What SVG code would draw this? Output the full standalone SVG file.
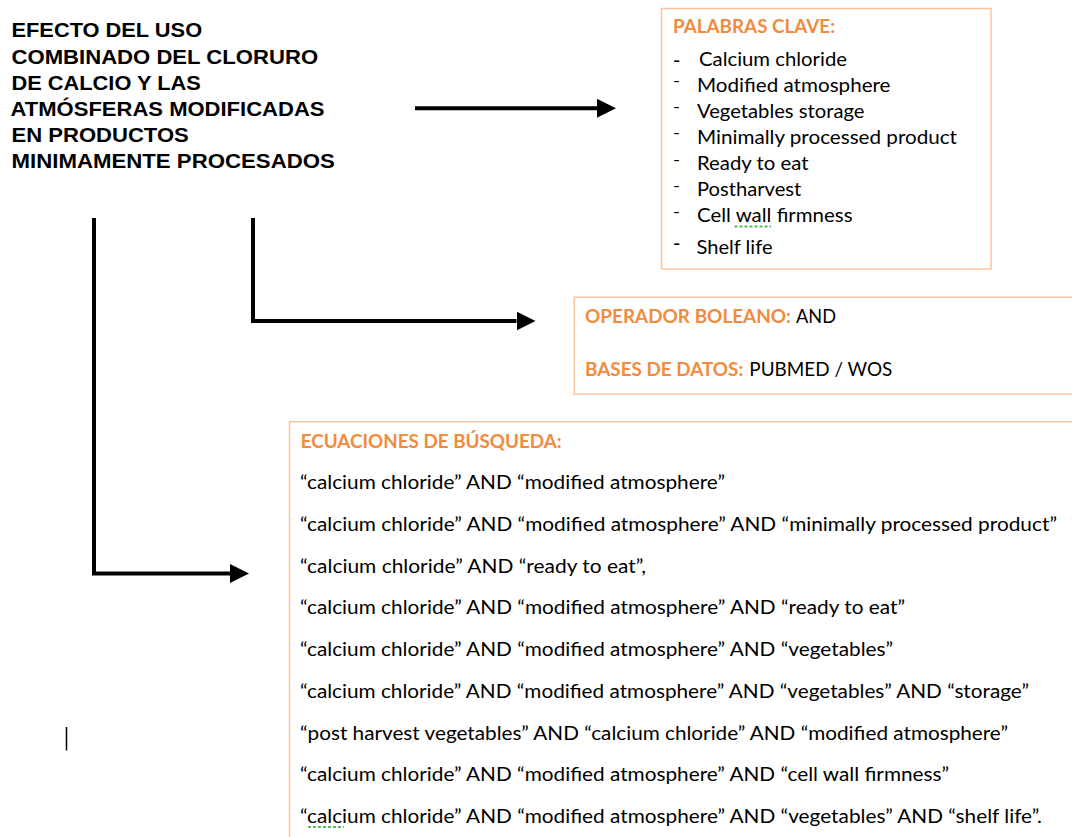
<svg xmlns="http://www.w3.org/2000/svg" width="1072" height="837" viewBox="0 0 1072 837">
<style>
.title{font-family:"Liberation Sans",Arial,sans-serif;font-weight:bold;font-size:20.5px;fill:#000}
.hd{font-family:Lato,"Open Sans",sans-serif;font-weight:bold;font-size:18px;fill:#F28B3E}
.kw{font-family:Lato,"Open Sans",sans-serif;font-size:20px;fill:#000}
.dash{font-family:Lato,"Open Sans",sans-serif;font-size:16px;fill:#000}
.eq{font-family:Lato,"Open Sans",sans-serif;font-size:18.5px;fill:#000}
.box{fill:#fff;stroke:#F8C4A0;stroke-width:1.5}
.conn{fill:none;stroke:#000;stroke-width:4;stroke-linejoin:miter}
.spell{stroke:#5DB75D;stroke-width:2;stroke-dasharray:3 2}
</style>
<defs>
<marker id="ah" markerUnits="userSpaceOnUse" markerWidth="20" markerHeight="20" refX="0" refY="9.5" orient="auto">
<path d="M0,0 L19,9.5 L0,19 Z" fill="#000"/>
</marker>
</defs>
<rect width="1072" height="837" fill="#fff"/>

<g id="title">
<text class="title" x="11.5" y="37.3" textLength="190.6" lengthAdjust="spacingAndGlyphs">EFECTO DEL USO</text>
<text class="title" x="11.5" y="63.5" textLength="306.6" lengthAdjust="spacingAndGlyphs">COMBINADO DEL CLORURO</text>
<text class="title" x="11.5" y="89.7" textLength="189.3" lengthAdjust="spacingAndGlyphs">DE CALCIO Y LAS</text>
<text class="title" x="10.5" y="115.9" textLength="314" lengthAdjust="spacingAndGlyphs">ATMÓSFERAS MODIFICADAS</text>
<text class="title" x="11.5" y="142.1" textLength="177.3" lengthAdjust="spacingAndGlyphs">EN PRODUCTOS</text>
<text class="title" x="11.5" y="168.3" textLength="323.3" lengthAdjust="spacingAndGlyphs">MINIMAMENTE PROCESADOS</text>
</g>

<g id="connectors">
<path class="conn" d="M415,108.3 H597" marker-end="url(#ah)"/>
<path class="conn" d="M253,218 V321 H516.5" marker-end="url(#ah)"/>
<path class="conn" d="M94,218 V573.5 H230" marker-end="url(#ah)"/>
</g>

<g id="palabras-clave">
<rect class="box" x="661.5" y="8.5" width="329.5" height="260.5"/>
<text class="hd" x="673" y="33" textLength="162" lengthAdjust="spacingAndGlyphs">PALABRAS CLAVE:</text>
<text class="dash" x="673" y="65.8" font-weight="bold" textLength="7.3" lengthAdjust="spacingAndGlyphs">-</text>
<text class="dash" x="673" y="85.6" textLength="7" lengthAdjust="spacingAndGlyphs">-</text>
<text class="dash" x="673" y="112.3" textLength="7" lengthAdjust="spacingAndGlyphs">-</text>
<text class="dash" x="673" y="137.9" textLength="7" lengthAdjust="spacingAndGlyphs">-</text>
<text class="dash" x="673" y="164.6" textLength="7" lengthAdjust="spacingAndGlyphs">-</text>
<text class="dash" x="673" y="190.6" textLength="7" lengthAdjust="spacingAndGlyphs">-</text>
<text class="dash" x="673" y="216.9" textLength="7" lengthAdjust="spacingAndGlyphs">-</text>
<text class="dash" x="673" y="248.6" font-weight="bold" textLength="7.3" lengthAdjust="spacingAndGlyphs">-</text>
<text class="kw" x="699" y="65.7" textLength="148" lengthAdjust="spacingAndGlyphs">Calcium chloride</text>
<text class="kw" x="697" y="91.7" textLength="193.5" lengthAdjust="spacingAndGlyphs">Modified atmosphere</text>
<text class="kw" x="697" y="117.7" textLength="167.5" lengthAdjust="spacingAndGlyphs">Vegetables storage</text>
<text class="kw" x="697" y="144" textLength="260" lengthAdjust="spacingAndGlyphs">Minimally processed product</text>
<text class="kw" x="697" y="170" textLength="111.5" lengthAdjust="spacingAndGlyphs">Ready to eat</text>
<text class="kw" x="697" y="196" textLength="104.3" lengthAdjust="spacingAndGlyphs">Postharvest</text>
<text class="kw" x="697" y="222.3" textLength="155.5" lengthAdjust="spacingAndGlyphs">Cell wall firmness</text>
<text class="kw" x="696.5" y="254" textLength="76" lengthAdjust="spacingAndGlyphs">Shelf life</text>
<line class="spell" x1="734.5" y1="226.5" x2="771" y2="226.5"/>
</g>

<g id="operador">
<rect class="box" x="574.3" y="297.3" width="510" height="96.7"/>
<text class="hd" x="585" y="323.3" textLength="206" lengthAdjust="spacingAndGlyphs">OPERADOR BOLEANO:</text>
<text class="eq" x="796" y="323.3" textLength="40" lengthAdjust="spacingAndGlyphs">AND</text>
<text class="hd" x="585" y="376" textLength="158.3" lengthAdjust="spacingAndGlyphs">BASES DE DATOS:</text>
<text class="eq" x="749.3" y="376" textLength="143" lengthAdjust="spacingAndGlyphs">PUBMED / WOS</text>
</g>

<g id="ecuaciones">
<rect class="box" x="289.5" y="421.7" width="800" height="440"/>
<text class="hd" x="300.7" y="448.3" textLength="261" lengthAdjust="spacingAndGlyphs">ECUACIONES DE BÚSQUEDA:</text>
<text class="eq" x="300" y="489" textLength="425" lengthAdjust="spacingAndGlyphs">“calcium chloride” AND “modified atmosphere”</text>
<text class="eq" x="300" y="530.8" textLength="757" lengthAdjust="spacingAndGlyphs">“calcium chloride” AND “modified atmosphere” AND “minimally processed product”</text>
<text class="eq" x="300" y="572.5" textLength="346" lengthAdjust="spacingAndGlyphs">“calcium chloride” AND “ready to eat”,</text>
<text class="eq" x="300" y="614.3" textLength="605" lengthAdjust="spacingAndGlyphs">“calcium chloride” AND “modified atmosphere” AND “ready to eat”</text>
<text class="eq" x="300" y="656" textLength="593" lengthAdjust="spacingAndGlyphs">“calcium chloride” AND “modified atmosphere” AND “vegetables”</text>
<text class="eq" x="300" y="697.8" textLength="729" lengthAdjust="spacingAndGlyphs">“calcium chloride” AND “modified atmosphere” AND “vegetables” AND “storage”</text>
<text class="eq" x="300" y="739.5" textLength="708" lengthAdjust="spacingAndGlyphs">“post harvest vegetables” AND “calcium chloride” AND “modified atmosphere”</text>
<text class="eq" x="300" y="781.3" textLength="649" lengthAdjust="spacingAndGlyphs">“calcium chloride” AND “modified atmosphere” AND “cell wall firmness”</text>
<text class="eq" x="300" y="823" textLength="742" lengthAdjust="spacingAndGlyphs">“calcium chloride” AND “modified atmosphere” AND “vegetables” AND “shelf life”.</text>
<line class="spell" x1="308" y1="827" x2="344" y2="827"/>
</g>

<g id="cursor">
<line x1="66.5" y1="727" x2="66.5" y2="750.5" stroke="#000" stroke-width="1.5"/>
</g>
</svg>
